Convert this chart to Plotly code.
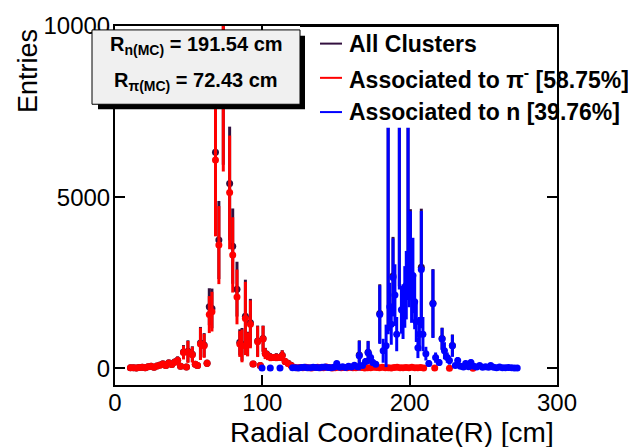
import plotly.graph_objects as go

# ---------------- data ----------------
red_x = [10.5, 12.5, 14.5, 16.5, 18.5, 20.5, 22.5, 24.5, 26.5, 28.5, 30.5, 32.5, 34.5, 36.5,
         38.5, 40.5, 42.5, 44.5, 46.5, 48.5, 49.5, 52.5, 54.5, 56.0, 58.0, 60.5, 62.5, 64.0,
         65.8, 68.2, 70.5, 73.5, 77.8, 79.9, 82.8, 84.7, 86.2, 88.5, 90.0, 91.9, 93.7, 96.8,
         98.6, 100.5, 102.0, 103.6, 105.5, 107.5, 109.5, 111.5, 113.5, 115.5, 117.5, 119.5,
         121.5, 123.5, 125.5, 127.5, 129.5, 131.5, 133.5, 135.5, 137.5, 139.5, 141.5, 143.5,
         145.5, 147.5, 149.5, 151.5, 153.5, 155.5, 157.5, 159.5, 161.5, 163.5, 165.5, 167.5,
         169.5, 171.5, 173.5, 175.5, 177.5, 179.5, 181.5, 183.5, 185.5, 187.5, 189.5, 191.5,
         193.5, 195.5, 197.5, 199.5, 201.5, 203.5, 205.5, 207.5, 209.5, 217.0, 227.0, 243.0]
red_y = [15, 20, 10, 25, 30, 20, 45, 60, 35, 70, 90, 130, 80, 160,
         110, 180, 230, 60, 460, 40, 480, 400, 120, 86, 714, 657, 150, 1571,
         1657, 6086, 3600, 10800, 5140, 3314, 2086, 714, 657, 1457, 700, 1286, 130, 780,
         86, 860, 430, 370, 320, 314, 320, 314, 371, 200, 143, 86,
         30, 20, 25, 15, 35, 20, 10, 25, 30, 15, 20, 40,
         25, 10, 20, 30, 15, 25, 20, 35, 15, 20, 30, 25,
         10, 20, 15, 30, 25, 20, 35, 15, 20, 10, 25, 30,
         20, 15, 25, 20, 30, 15, 20, 25, 10, 10, 5, 5]
red_err = [10, 12, 10, 15, 18, 15, 25, 30, 20, 35, 45, 60, 45, 70,
           55, 90, 110, 40, 200, 30, 320, 230, 80, 60, 470, 350, 100, 540,
           580, 2230, 1140, 5050, 1660, 1100, 800, 380, 480, 1070, 350, 700, 80, 450,
           60, 380, 160, 130, 110, 100, 110, 100, 150, 90, 70, 50,
           20, 15, 18, 12, 22, 15, 8, 18, 20, 12, 15, 25,
           18, 8, 15, 20, 12, 18, 15, 22, 12, 15, 20, 18,
           8, 15, 12, 20, 18, 15, 22, 12, 15, 8, 18, 20,
           15, 12, 18, 15, 20, 12, 15, 18, 8, 8, 5, 5]

blue_x = [99.8, 105.4, 112.0,
          120.5, 122.5, 124.5, 126.5, 128.5, 130.5, 132.5, 134.5, 136.5, 138.5, 140.5, 142.5,
          144.5, 146.5, 148.5, 150.5, 152.5, 154.5, 156.5, 158.5, 160.5, 162.5, 164.5,
          165.8, 168.0, 170.0, 171.8, 173.5, 175.0, 177.0, 179.7, 182.0, 184.0, 185.4, 186.5,
          187.5, 188.7, 190.0, 191.2, 193.0, 194.4, 195.5, 196.7, 197.7, 198.9, 199.6, 200.5,
          201.3, 202.2, 203.4, 204.5, 205.6, 206.6, 207.9, 209.0, 211.0, 213.0, 215.8, 217.6,
          220.0, 222.0, 223.6, 225.5, 227.0, 229.0, 231.0, 232.6, 234.5, 236.5, 238.0, 240.0,
          241.6, 243.5, 245.5, 247.5, 249.5, 251.5, 253.5, 255.0, 257.0, 259.0, 261.0, 263.0,
          265.0, 267.0, 269.0, 271.0, 273.0]
blue_y = [10, 8, 10,
          15, 20, 10, 25, 30, 15, 20, 35, 25, 20, 30, 40,
          25, 20, 35, 143, 30, 45, 25, 60, 40, 90, 50,
          371, 80, 200, 457, 314, 171, 120, 1571, 514, 657, 7500, 1800,
          1290, 2657, 2140, 1000, 8500, 1714, 1657, 2086, 2430, 8000, 2885, 3290,
          2230, 2714, 1943, 1371, 600, 1000, 2885, 1000, 430, 143, 1886, 314,
          171, 857, 514, 314, 229, 657, 86, 230, 60, 40, 143, 50,
          170, 60, 40, 80, 30, 50, 30, 86, 30, 20, 40, 20,
          15, 25, 15, 10, 12]
blue_err = [10, 8, 10,
            12, 15, 8, 18, 20, 12, 15, 22, 18, 15, 20, 25,
            18, 15, 22, 60, 20, 28, 18, 35, 25, 50, 30,
            430, 50, 100, 333, 150, 100, 70, 857, 350, 620, 6500, 700,
            600, 1140, 900, 500, 6200, 700, 800, 900, 1000, 6000, 1100, 1300,
            900, 1100, 800, 600, 300, 500, 1714, 500, 200, 100, 1000, 150,
            100, 320, 250, 150, 120, 320, 60, 100, 40, 30, 80, 30,
            90, 40, 30, 50, 20, 30, 20, 50, 20, 15, 25, 15,
            10, 15, 10, 8, 8]

all_x = [10.5, 12.5, 14.5, 16.5, 18.5, 20.5, 22.5, 24.5, 26.5, 28.5, 30.5, 32.5, 34.5, 36.5,
         38.5, 40.5, 42.5, 44.5, 46.5, 48.5, 49.5, 52.5, 54.5, 56.0, 58.0, 60.5, 62.5, 64.0,
         65.8, 68.2, 70.5, 73.5, 77.8, 79.9, 82.8, 84.7, 86.2, 88.5, 90.0, 91.9, 93.7, 96.8,
         98.6, 100.5, 102.0, 103.6, 105.5, 107.5, 109.5, 111.5, 113.5, 115.5, 117.5, 119.5,
         165.8, 171.8, 179.7, 185.4, 188.7, 193.0, 198.9, 200.5, 207.9, 215.8, 222.0, 229.0]
all_y = [15, 20, 10, 25, 30, 20, 45, 60, 35, 70, 95, 135, 80, 165,
         110, 185, 240, 60, 480, 40, 500, 415, 120, 86, 740, 680, 150, 1800,
         1750, 6314, 3750, 11000, 5400, 3570, 2314, 760, 700, 1520, 720, 1330, 130, 800,
         86, 870, 440, 380, 330, 320, 330, 320, 380, 200, 150, 90,
         390, 470, 1600, 7600, 2700, 8600, 8100, 3350, 2950, 1900, 870, 670]
all_err = [10, 12, 10, 15, 18, 15, 25, 30, 20, 35, 45, 60, 45, 70,
           55, 90, 110, 40, 200, 30, 320, 230, 80, 60, 470, 350, 100, 540,
           580, 2230, 1140, 5050, 1660, 1100, 800, 380, 480, 1070, 350, 700, 80, 450,
           60, 380, 160, 130, 110, 100, 110, 100, 150, 90, 70, 50,
           430, 333, 857, 6500, 1140, 6200, 6000, 1300, 1714, 1000, 320, 320]

x_ticks = [0, 100, 200, 300]
y_ticks = [0, 5000, 10000]

legend_labels = ["<b>All Clusters</b>",
                 "<b>Associated to π<sup>-</sup> [58.75%]</b>",
                 "<b>Associated to n [39.76%]</b>"]
stats_lines = ["<b>R<sub>n(MC)</sub> = 191.54 cm</b>",
               "<b>R<sub>π(MC)</sub> = 72.43 cm</b>"]

# ---------------- styling ----------------
FONT = "Liberation Sans, Arial, Helvetica, sans-serif"
C_ALL = "#33103f"
C_RED = "#ff0000"
C_BLUE = "#0000ff"

W, H = 628, 447
L, R, T, B = 115, 557, 18, 385   # plot frame in pixels


def px(x):
    return (x - L) / (R - L)


def py(y):
    return (B - y) / (B - T)


fig = go.Figure()


def add_series(x, y, e, color):
    fig.add_trace(go.Scatter(
        x=x, y=y, mode="markers",
        marker=dict(color=color, size=7, symbol="circle"),
        error_y=dict(type="data", array=e, visible=True, color=color,
                     thickness=3, width=0),
        showlegend=False, hoverinfo="skip"))


add_series(all_x, all_y, all_err, C_ALL)
add_series(red_x, red_y, red_err, C_RED)
add_series(blue_x, blue_y, blue_err, C_BLUE)

shapes = []
# legend white box (covers data behind it)
shapes.append(dict(type="rect", xref="paper", yref="paper", layer="above",
                   x0=px(305), x1=px(555.5), y0=py(122), y1=py(17),
                   fillcolor="white", line=dict(width=0)))
# frame top edge redrawn over the legend box
shapes.append(dict(type="line", xref="paper", yref="paper", layer="above",
                   x0=px(300), x1=px(558), y0=py(18), y1=py(18),
                   line=dict(color="black", width=2)))
# stats box shadow + box
shapes.append(dict(type="rect", xref="paper", yref="paper", layer="above",
                   x0=px(98), x1=px(305), y0=py(103), y1=py(28),
                   fillcolor="black", line=dict(width=0)))
shapes.append(dict(type="rect", xref="paper", yref="paper", layer="above",
                   x0=px(92), x1=px(300), y0=py(98), y1=py(22),
                   fillcolor="#f0f0f0", line=dict(color="black", width=1)))

legend_colors = [C_ALL, C_RED, C_BLUE]
legend_y = [36, 71, 106]
annotations = []
for lab, col, yy in zip(legend_labels, legend_colors, legend_y):
    shapes.append(dict(type="line", xref="paper", yref="paper", layer="above",
                       x0=px(320), x1=px(342), y0=py(yy), y1=py(yy),
                       line=dict(color=col, width=2)))
    annotations.append(dict(xref="paper", yref="paper", x=px(347), y=py(yy),
                            xanchor="left", yanchor="middle", showarrow=False,
                            text=lab, font=dict(family=FONT, size=23, color="black")))

for txt, yy in zip(stats_lines, [38, 75]):
    annotations.append(dict(xref="paper", yref="paper", x=px(196), y=py(yy),
                            xanchor="center", yanchor="middle", showarrow=False,
                            text=txt, font=dict(family=FONT, size=20, color="black")))

# axis titles (ROOT style: right/top aligned)
annotations.append(dict(xref="paper", yref="paper", x=px(556), y=py(434),
                        xanchor="right", yanchor="middle", showarrow=False,
                        text="Radial Coordinate(R) [cm]",
                        font=dict(family=FONT, size=28, color="black")))
annotations.append(dict(xref="paper", yref="paper", x=px(28), y=py(19),
                        xanchor="center", yanchor="top", showarrow=False,
                        textangle=-90, text="Entries",
                        font=dict(family=FONT, size=27, color="black")))

axis_common = dict(showgrid=False, zeroline=False, showline=True, linecolor="black",
                   linewidth=2, mirror="ticks", ticks="inside", ticklen=10,
                   tickwidth=2, tickcolor="black",
                   tickfont=dict(family=FONT, size=24, color="black"))

fig.update_layout(
    width=W, height=H,
    margin=dict(l=L, r=W - R, t=T, b=H - B, pad=0),
    paper_bgcolor="white", plot_bgcolor="white",
    xaxis=dict(range=[0, 300], tickvals=x_ticks, ticktext=[str(v) for v in x_ticks],
               ticklabelstandoff=-5, **axis_common),
    yaxis=dict(range=[-486, 10000], tickvals=y_ticks, ticktext=[str(v) for v in y_ticks],
               ticklabelstandoff=-2, **axis_common),
    shapes=shapes, annotations=annotations, showlegend=False,
)

fig.write_html("out.html",
               config={"displayModeBar": False},
               post_script="document.body.style.margin='0';"
                           "document.body.style.overflow='hidden';")
